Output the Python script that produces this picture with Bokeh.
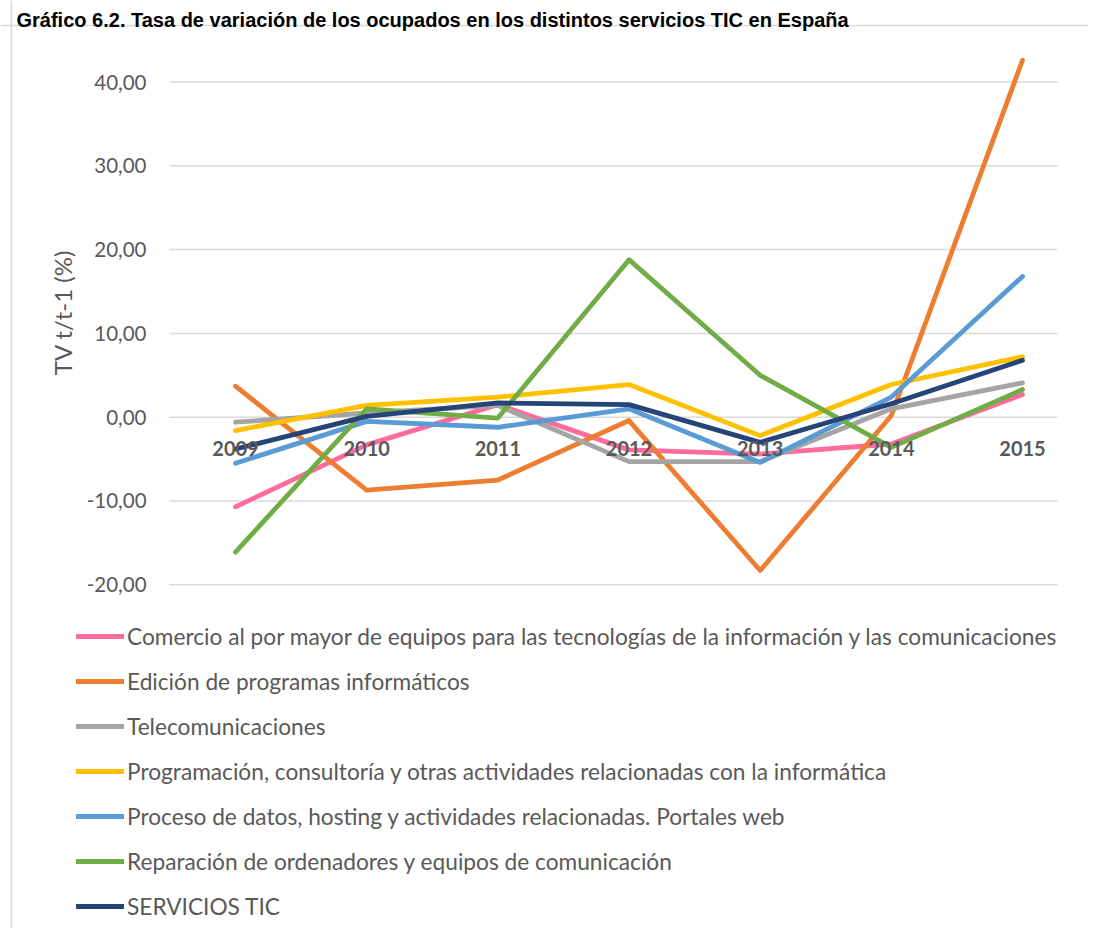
from bokeh.plotting import figure
from bokeh.models import (Range1d, FixedTicker, CustomJSTickFormatter, Legend, LegendItem,
                          Label, Span)
from bokeh.embed import file_html
from bokeh.resources import INLINE
import math

years = ["2009", "2010", "2011", "2012", "2013", "2014", "2015"]

series_names = [
    "Comercio al por mayor de equipos para las tecnologías de la información y las comunicaciones",
    "Edición de programas informáticos",
    "Telecomunicaciones",
    "Programación, consultoría y otras actividades relacionadas con la informática",
    "Proceso de datos, hosting y actividades relacionadas. Portales web",
    "Reparación de ordenadores y equipos de comunicación",
    "SERVICIOS TIC",
]

comercio = [-10.7, -3.3, 1.5, -3.9, -4.4, -3.2, 2.7]
edicion = [3.7, -8.7, -7.5, -0.4, -18.3, 0.2, 42.6]
telecom = [-0.6, 0.5, 1.4, -5.3, -5.3, 1.0, 4.1]
programacion = [-1.6, 1.4, 2.4, 3.9, -2.2, 3.9, 7.2]
proceso = [-5.5, -0.5, -1.2, 1.0, -5.4, 2.4, 16.8]
reparacion = [-16.1, 1.0, -0.1, 18.8, 5.0, -3.6, 3.3]
servicios = [-3.8, 0.1, 1.7, 1.5, -3.0, 1.6, 6.8]

colors = ["#FF6B9D", "#ED7D31", "#A5A5A5", "#FFC000", "#5B9BD5", "#70AD47", "#264478"]

y_ticks = [-20, -10, 0, 10, 20, 30, 40]

title_text = "Gráfico 6.2. Tasa de variación de los ocupados en los distintos servicios TIC en España"
y_label_text = "TV t/t-1 (%)"

FONT = "Lato"
GREY = "#595959"

xs = [int(y) for y in years]

# layout: view window in data units, and pixels per unit
W, H = 1088, 928
X0, X1 = 2007.2084, 2015.5030
Y0, Y1 = -61.02, 49.73
PX_X = W / (X1 - X0)
PX_Y = H / (Y1 - Y0)

# plot-area edges (in x data units) where the horizontal gridlines start / end
area_left = 2008.497
area_right = 2015.267

p = figure(width=W, height=H, output_backend="svg", toolbar_location=None,
           x_range=Range1d(X0, X1), y_range=Range1d(Y0, Y1),
           min_border_left=0, min_border_right=0, min_border_top=0, min_border_bottom=0)
p.outline_line_color = None
p.background_fill_color = "white"
p.border_fill_color = "white"
p.xgrid.grid_line_color = None
p.ygrid.grid_line_color = None

# y axis drawn at the plot-area left edge
p.yaxis.fixed_location = area_left
p.yaxis.ticker = FixedTicker(ticks=y_ticks)
p.yaxis.formatter = CustomJSTickFormatter(code="return tick.toFixed(2).replace('.', ',');")
p.yaxis.axis_line_color = None
p.yaxis.major_tick_line_color = None
p.yaxis.minor_tick_line_color = None
p.yaxis.major_tick_out = 0
p.yaxis.major_tick_in = 0
p.yaxis.major_label_standoff = 23
p.yaxis.major_label_text_font = FONT
p.yaxis.major_label_text_font_size = "20.5px"
p.yaxis.major_label_text_color = GREY

# x axis labels sitting on the zero line
p.xaxis.ticker = FixedTicker(ticks=xs)
p.xaxis.major_label_overrides = {x: y for x, y in zip(xs, years)}
p.xaxis.fixed_location = 0
p.xaxis.axis_line_color = None
p.xaxis.major_tick_line_color = None
p.xaxis.minor_tick_line_color = None
p.xaxis.major_tick_out = 0
p.xaxis.major_tick_in = 0
p.xaxis.major_label_standoff = 24
p.xaxis.major_label_text_font = FONT
p.xaxis.major_label_text_font_style = "bold"
p.xaxis.major_label_text_font_size = "20px"
p.xaxis.major_label_text_color = GREY

# chart border (left and top edges of the chart box)
p.add_layout(Span(location=X0 + 11 / PX_X, dimension="height",
                  line_color="#D9D9D9", line_width=1.5))
p.add_layout(Span(location=Y1 - 25 / PX_Y, dimension="width",
                  line_color="#D9D9D9", line_width=1.5))

# horizontal gridlines across the plot area
p.segment(x0=[area_left] * len(y_ticks), x1=[area_right] * len(y_ticks),
          y0=y_ticks, y1=y_ticks, line_color="#D9D9D9", line_width=1.5)

all_series = [comercio, edicion, telecom, programacion, proceso, reparacion, servicios]
items = []
for name, vals, col in zip(series_names, all_series, colors):
    r = p.line(xs, vals, line_color=col, line_width=4.8, line_cap="round", line_join="round")
    items.append(LegendItem(label=name, renderers=[r]))

legend = Legend(items=items, location=(76, 8), orientation="vertical",
                glyph_width=48, glyph_height=28, label_height=28, label_standoff=3,
                spacing=17, padding=0, margin=0, border_line_color=None,
                background_fill_alpha=0, label_text_font=FONT,
                label_text_font_size="22.7px", label_text_color=GREY)
p.add_layout(legend, "center")

# y axis title
p.add_layout(Label(x=62, y=312, x_units="canvas", y_units="canvas", text=y_label_text,
                   angle=math.pi / 2, text_align="center", text_baseline="middle",
                   text_font=FONT, text_font_size="24px", text_color=GREY))

# chart title
p.add_layout(Label(x=16, y=19, x_units="canvas", y_units="canvas", text=title_text,
                   text_align="left", text_baseline="alphabetic",
                   text_font="Liberation Sans", text_font_style="bold",
                   text_font_size="20px", text_color="black"))

open("out.html", "w").write(file_html(p, INLINE))
